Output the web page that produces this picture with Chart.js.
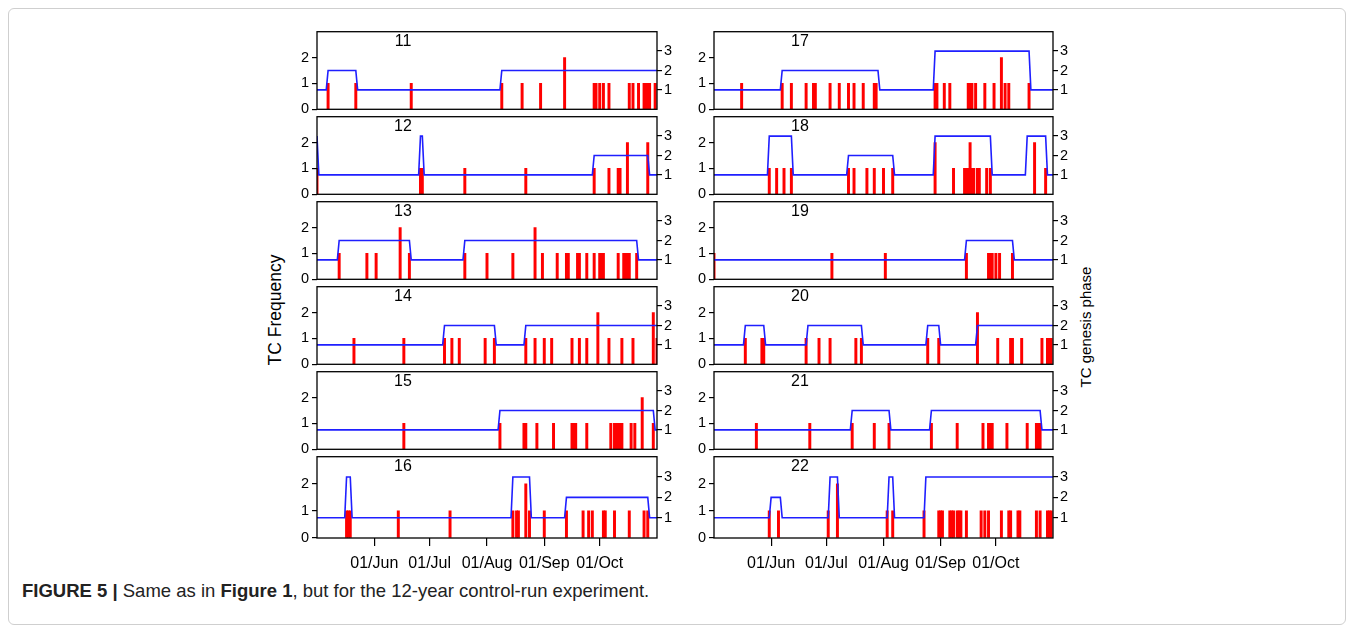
<!DOCTYPE html>
<html>
<head>
<meta charset="utf-8">
<script src="https://cdn.jsdelivr.net/npm/chart.js@4.4.0/dist/chart.umd.min.js"></script>
<style>
  body { margin: 0; background: #fff; font-family: "Liberation Sans", Arial, sans-serif; }
  #frame { position: absolute; left: 8px; top: 8px; width: 1338px; height: 617px;
           border: 1px solid #cfcfcf; border-radius: 6px; box-sizing: border-box; }
  canvas { position: absolute; }
  .ytitle { position: absolute; color: #000; white-space: nowrap;
            transform: translate(-50%, -50%) rotate(-90deg); }
  #caption { position: absolute; left: 22px; top: 580px; font-size: 18.5px; color: #222; white-space: nowrap; }
</style>
</head>
<body>
<div id="frame"></div>
<div class="ytitle" style="left:275px; top:310px; font-size:17.5px;">TC Frequency</div>
<div class="ytitle" style="left:1085px; top:327px; font-size:15px;">TC genesis phase</div>
<div id="caption"><b>FIGURE 5 |</b> Same as in <b>Figure 1</b>, but for the 12-year control-run experiment.</div>

<script>
// day index: 0 = 01/May ... 183 = 31/Oct
const monthTicks = [31, 61, 92, 123, 153];
const monthLabels = ['01/Jun', '01/Jul', '01/Aug', '01/Sep', '01/Oct'];

// TC days (one storm) and days with two storms
const tc11 = [6, 21, 51, 100, 111, 121, 150, 151, 153, 155, 158, 169, 171, 174, 177, 178, 179, 180, 183];
const tc11x2 = [134];
const tc12 = [0, 56, 57, 80, 113, 150, 158, 163, 164];
const tc12x2 = [168, 179];
const tc13 = [12, 27, 32, 50, 80, 92, 106, 122, 130, 135, 136, 141, 142, 146, 150, 153, 154, 155, 163, 166, 167, 168, 169, 173];
const tc13x2 = [45, 118];
const tc14 = [20, 47, 69, 73, 77, 91, 96, 113, 118, 123, 127, 138, 142, 146, 158, 165, 171, 184];
const tc14x2 = [152, 182];
const tc15 = [47, 99, 112, 113, 119, 128, 138, 139, 140, 146, 159, 161, 162, 163, 164, 165, 170, 172, 182];
const tc15x2 = [176];
const tc16 = [16, 17, 18, 44, 72, 106, 108, 109, 115, 123, 135, 144, 147, 149, 155, 156, 161, 169, 177, 179];
const tc16x2 = [113];
const tc17 = [15, 37, 42, 50, 54, 55, 63, 68, 73, 76, 81, 87, 88, 120, 121, 125, 128, 138, 139, 140, 142, 147, 152, 158, 160, 171];
const tc17x2 = [156];
const tc18 = [30, 34, 38, 42, 73, 76, 83, 87, 92, 97, 130, 136, 137, 138, 140, 141, 143, 144, 148, 150, 180];
const tc18x2 = [120, 139, 174];
const tc19 = [0, 64, 93, 137, 149, 150, 151, 153, 155, 162];
const tc19x2 = [];
const tc20 = [17, 26, 27, 50, 57, 63, 77, 80, 116, 122, 154, 161, 162, 167, 178, 181, 182, 183];
const tc20x2 = [143];
const tc21 = [23, 52, 75, 87, 95, 118, 132, 146, 149, 150, 151, 159, 170, 175, 176, 177];
const tc21x2 = [];
const tc22 = [30, 35, 62, 94, 97, 114, 122, 123, 124, 128, 129, 130, 132, 133, 134, 137, 145, 147, 149, 156, 160, 161, 165, 166, 175, 177, 181, 182, 183];
const tc22x2 = [67];

// genesis phase: [first day, phase]
const phase11 = [[0, 1], [6, 2], [22, 1], [100, 2]];
const phase12 = [[0, 3], [1, 1], [56, 3], [58, 1], [150, 2], [180, 1]];
const phase13 = [[0, 1], [12, 2], [51, 1], [80, 2], [174, 1]];
const phase14 = [[0, 1], [69, 2], [97, 1], [113, 2]];
const phase15 = [[0, 1], [99, 2], [183, 1]];
const phase16 = [[0, 1], [16, 3], [19, 1], [106, 3], [116, 1], [135, 2], [180, 1]];
const phase17 = [[0, 1], [37, 2], [90, 1], [120, 3], [172, 1]];
const phase18 = [[0, 1], [30, 3], [43, 1], [73, 2], [98, 1], [120, 3], [151, 1], [170, 3], [181, 1]];
const phase19 = [[0, 1], [137, 2], [163, 1]];
const phase20 = [[0, 1], [17, 2], [28, 1], [51, 2], [81, 1], [116, 2], [123, 1], [143, 2]];
const phase21 = [[0, 1], [75, 2], [96, 1], [118, 2], [178, 1]];
const phase22 = [[0, 1], [31, 2], [37, 1], [63, 3], [68, 1], [95, 3], [98, 1], [115, 3]];

const panels = [
  ['11', tc11, tc11x2, phase11], ['12', tc12, tc12x2, phase12], ['13', tc13, tc13x2, phase13],
  ['14', tc14, tc14x2, phase14], ['15', tc15, tc15x2, phase15], ['16', tc16, tc16x2, phase16],
  ['17', tc17, tc17x2, phase17], ['18', tc18, tc18x2, phase18], ['19', tc19, tc19x2, phase19],
  ['20', tc20, tc20x2, phase20], ['21', tc21, tc21x2, phase21], ['22', tc22, tc22x2, phase22]
];

const font = '"Liberation Sans", Arial, sans-serif';

// frame + panel number
const framePlugin = {
  id: 'frame',
  afterDraw(chart, args, opts) {
    const a = chart.chartArea, ctx = chart.ctx;
    ctx.save();
    ctx.strokeStyle = '#000';
    ctx.lineWidth = 1.3;
    ctx.strokeRect(a.left, a.top, a.right - a.left, a.bottom - a.top);
    ctx.fillStyle = '#000';
    ctx.font = '16px ' + font;
    ctx.textAlign = 'center';
    ctx.textBaseline = 'middle';
    ctx.fillText(opts.name, a.left + 86, a.top + 10);
    ctx.restore();
  }
};

function makePanel(idx) {
  const [name, tc1, tc2, phase] = panels[idx];
  const col = idx < 6 ? 0 : 1;
  const row = idx % 6;
  const bottom = row === 5;
  const plotLeft = col === 0 ? 317 : 714;
  const plotW = col === 0 ? 340 : 339;
  const plotTop = 28 + 85 * row;

  const cv = document.createElement('canvas');
  const w = plotW + 80;
  const h = 85 + 8 + (bottom ? 46 : 8);
  cv.style.left = (plotLeft - 40) + 'px';
  cv.style.top = (plotTop - 8) + 'px';
  cv.style.width = w + 'px';
  cv.style.height = h + 'px';
  cv.width = w; cv.height = h;
  document.body.appendChild(cv);

  const bars = tc1.map(d => ({x: d, y: 1})).concat(tc2.map(d => ({x: d, y: 2})));
  const line = [];
  phase.forEach((seg, i) => {
    const end = i < phase.length - 1 ? phase[i + 1][0] - 1 : 184;
    line.push({x: seg[0], y: seg[1]}, {x: end, y: seg[1]});
  });

  new Chart(cv, {
    type: 'bar',
    data: {
      datasets: [{
        type: 'line',
        data: line,
        yAxisID: 'y1',
        borderColor: '#1f1fff',
        borderWidth: 1.6,
        pointRadius: 0,
        tension: 0,
        order: 0
      }, {
        type: 'bar',
        data: bars,
        yAxisID: 'y',
        backgroundColor: '#ff0000',
        barThickness: 2.3,
        order: 1
      }]
    },
    options: {
      responsive: false,
      animation: false,
      events: [],
      layout: {padding: {top: 8, bottom: bottom ? 0 : 8, left: 0, right: 0}},
      plugins: {legend: {display: false}, tooltip: {enabled: false}, frame: {name: name}},
      scales: {
        x: {
          type: 'linear',
          min: 0,
          max: 184,
          offset: false,
          display: bottom,
          afterBuildTicks: axis => { axis.ticks = monthTicks.map(v => ({value: v})); },
          afterFit: axis => { axis.height = bottom ? 46 : 0; },
          grid: {offset: false, drawOnChartArea: false, drawTicks: true, tickLength: 8, color: '#000', lineWidth: 1.2},
          border: {display: false},
          ticks: {
            color: '#000',
            font: {family: font, size: 16},
            padding: 8,
            maxRotation: 0,
            autoSkip: false,
            callback: v => monthLabels[monthTicks.indexOf(v)]
          }
        },
        y: {
          position: 'left',
          min: 0,
          max: 3,
          afterBuildTicks: axis => { axis.ticks = [0, 1, 2].map(v => ({value: v})); },
          afterFit: axis => { axis.width = 40; },
          grid: {drawOnChartArea: false, drawTicks: true, tickLength: 5, color: '#000', lineWidth: 1.2},
          border: {display: false},
          ticks: {color: '#000', font: {family: font, size: 14.5}, padding: 3}
        },
        y1: {
          position: 'right',
          min: 0,
          max: 4,
          afterBuildTicks: axis => { axis.ticks = [1, 2, 3].map(v => ({value: v})); },
          afterFit: axis => { axis.width = 40; },
          grid: {drawOnChartArea: false, drawTicks: true, tickLength: 5, color: '#000', lineWidth: 1.2},
          border: {display: false},
          ticks: {color: '#000', font: {family: font, size: 14.5}, padding: 2}
        }
      }
    },
    plugins: [framePlugin]
  });
}

for (let i = 0; i < panels.length; i++) makePanel(i);
</script>
</body>
</html>
